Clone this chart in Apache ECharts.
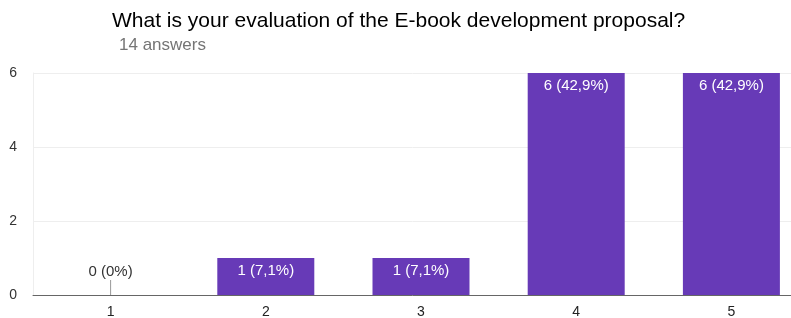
<!DOCTYPE html>
<html><head><meta charset="utf-8">
<script src="https://cdn.jsdelivr.net/npm/echarts@6/dist/echarts.min.js"></script>
<style>html,body{margin:0;padding:0;background:#fff}#c{width:791px;height:318px}</style>
</head><body><div id="c"></div>
<script>
var categories = ['1','2','3','4','5'];
var counts = [0,1,1,6,6];
var labels = ['0 (0%)','1 (7,1%)','1 (7,1%)','6 (42,9%)','6 (42,9%)'];
var yTicks = [0,2,4,6];

var chart = echarts.init(document.getElementById('c'));
var font = 'Liberation Sans, Arial, sans-serif';
chart.setOption({
  animation:false,
  title:[{
    text:'What is your evaluation of the E-book development proposal?',
    left:112, top:11, padding:0,
    textStyle:{fontFamily:font,fontSize:21,fontWeight:'normal',color:'#000'}
  },{
    text:'14 answers',
    left:119, top:37, padding:0,
    textStyle:{fontFamily:font,fontSize:17,fontWeight:'normal',color:'#757575'}
  }],
  grid:{left:33,width:776,top:73,bottom:23,containLabel:false,outerBoundsMode:'none'},
  xAxis:{
    type:'category',data:categories,
    axisLine:{lineStyle:{color:'#666',width:1}},
    axisTick:{show:false},
    axisLabel:{fontFamily:font,fontSize:14,color:'#222',margin:10}
  },
  yAxis:{
    type:'value',min:0,max:6,interval:2,
    axisLine:{show:true,lineStyle:{color:'#eee'}},
    axisTick:{show:false},
    splitLine:{lineStyle:{color:'#eee'}},
    axisLabel:{fontFamily:font,fontSize:14,color:'#333',margin:16,
      formatter:function(v){return yTicks.indexOf(v)>=0?String(v):'';}}
  },
  series:[{
    type:'bar',data:counts,barWidth:97,
    itemStyle:{color:'#673AB7'},
    label:{show:true,position:'insideTop',distance:5,color:'#fff',fontFamily:font,fontSize:15,
      formatter:function(p){return p.value>0?labels[p.dataIndex]:'';}}
  },{
    type:'custom',
    data:counts.map(function(v,i){return [i,v];}),
    renderItem:function(params,api){
      var v=api.value(1);
      if(v!==0) return null;
      var p=api.coord([api.value(0),0]);
      return {type:'group',children:[
        {type:'line',shape:{x1:p[0],y1:p[1],x2:p[0],y2:p[1]-15},style:{stroke:'#999',lineWidth:1}},
        {type:'text',style:{text:labels[params.dataIndex],x:p[0],y:p[1]-16,align:'center',verticalAlign:'bottom',
          fill:'#333',font:'15px '+font}}
      ]};
    }
  }]
});
</script></body></html>
